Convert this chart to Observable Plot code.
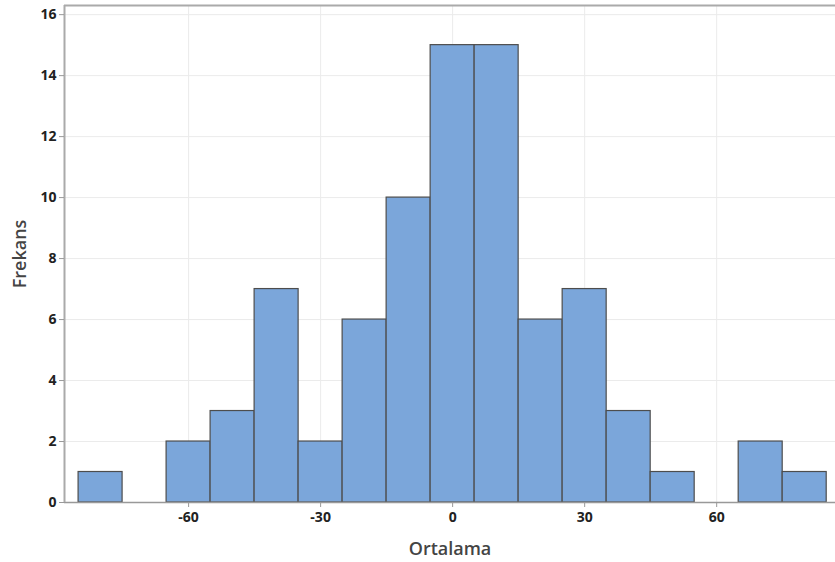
<!DOCTYPE html>
<html>
<head>
<meta charset="utf-8">
<script src="https://cdn.jsdelivr.net/npm/d3@7"></script>
<script src="https://cdn.jsdelivr.net/npm/@observablehq/plot@0.6"></script>
<style>
  html, body { margin: 0; padding: 0; background: #fff; }
  #chart { width: 835px; height: 562px; }
  svg { font-family: "Open Sans", "Noto Sans", sans-serif; }
</style>
</head>
<body>
<div id="chart"></div>
<script>
// Histogram data (bin width 10)
const binStarts = [-85, -75, -65, -55, -45, -35, -25, -15, -5, 5, 15, 25, 35, 45, 55, 65, 75];
const binEnds   = [-75, -65, -55, -45, -35, -25, -15, -5, 5, 15, 25, 35, 45, 55, 65, 75, 85];
const counts    = [1, 0, 2, 3, 7, 2, 6, 10, 15, 15, 6, 7, 3, 1, 0, 2, 1];
const xTicks = [-60, -30, 0, 30, 60];
const yTicks = [0, 2, 4, 6, 8, 10, 12, 14, 16];

const bins = binStarts.map((s, i) => ({x1: s, x2: binEnds[i], y: counts[i]})).filter(d => d.y > 0);

const xDomain = [-88.2, 87];
const yDomain = [0, 16.3];

const chart = Plot.plot({
  width: 835,
  height: 562,
  marginLeft: 64,
  marginRight: 0,
  marginTop: 5,
  marginBottom: 60,
  style: {fontFamily: "'Open Sans', sans-serif", fontSize: "14px", color: "#222", background: "#fff"},
  x: {domain: xDomain, ticks: xTicks, label: null},
  y: {domain: yDomain, ticks: yTicks, label: null},
  marks: [
    Plot.gridX(xTicks, {stroke: "#ebebeb", strokeOpacity: 1}),
    Plot.gridY(yTicks, {stroke: "#ebebeb", strokeOpacity: 1}),
    Plot.rect(bins, {x1: "x1", x2: "x2", y1: 0, y2: "y", fill: "#7ba6da", stroke: "#4d4d4d", strokeWidth: 1.2}),
    Plot.ruleY([0], {stroke: "#999", strokeWidth: 1.5}),
    Plot.ruleY([yDomain[1]], {stroke: "#aaa", strokeWidth: 2}),
    Plot.ruleX([xDomain[0]], {stroke: "#aaa", strokeWidth: 2}),
    Plot.axisX({ticks: xTicks, tickSize: 5, stroke: "#999", fontWeight: 700, fontSize: 14, fill: "#222", label: null, tickPadding: 5, tickFormat: d => String(d)}),
    Plot.axisY({ticks: yTicks, tickSize: 5, stroke: "#999", fontWeight: 700, fontSize: 14, fill: "#222", label: null, tickPadding: 3}),
    Plot.text(["Ortalama"], {frameAnchor: "bottom", lineAnchor: "middle", dy: 47, fontSize: 18, fill: "#444", fontWeight: 600}),
    Plot.text(["Frekans"], {frameAnchor: "left", textAnchor: "middle", lineAnchor: "middle", rotate: -90, dx: -44, fontSize: 18, fill: "#444", fontWeight: 600})
  ]
});
document.getElementById("chart").appendChild(chart);
</script>
</body>
</html>
